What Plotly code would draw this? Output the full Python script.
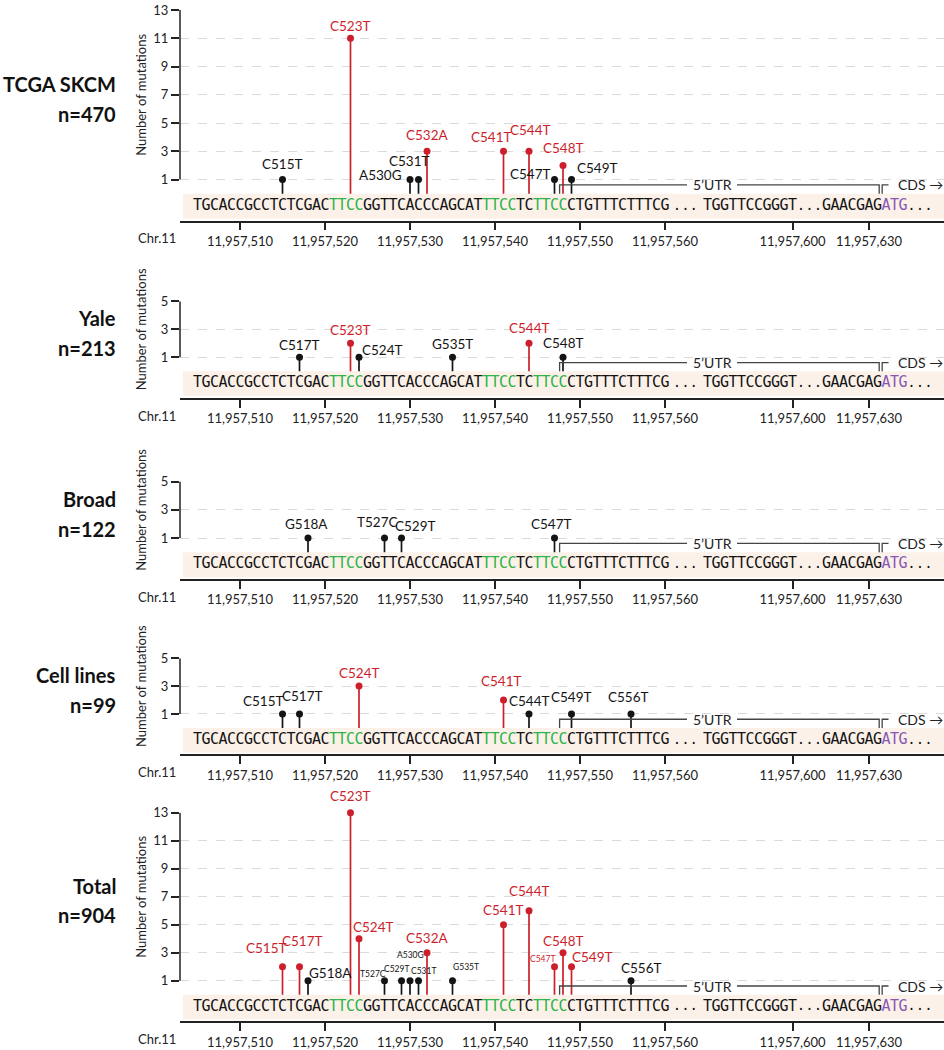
import plotly.graph_objects as go

W, H = 944, 1050

# ---------------- data ----------------
panel_names = ["TCGA SKCM", "Yale", "Broad", "Cell lines", "Total"]
panel_n = ["n=470", "n=213", "n=122", "n=99", "n=904"]
panel_ymax = [13, 5, 5, 5, 13]

tcga_mut = ["C515T", "C523T", "A530G", "C531T", "C532A", "C541T", "C544T", "C547T", "C548T", "C549T"]
tcga_pos = [515, 523, 530, 531, 532, 541, 544, 547, 548, 549]
tcga_cnt = [1, 11, 1, 1, 3, 3, 3, 1, 2, 1]

yale_mut = ["C517T", "C523T", "C524T", "G535T", "C544T", "C548T"]
yale_pos = [517, 523, 524, 535, 544, 548]
yale_cnt = [1, 2, 1, 1, 2, 1]

broad_mut = ["G518A", "T527C", "C529T", "C547T"]
broad_pos = [518, 527, 529, 547]
broad_cnt = [1, 1, 1, 1]

cell_mut = ["C515T", "C517T", "C524T", "C541T", "C544T", "C549T", "C556T"]
cell_pos = [515, 517, 524, 541, 544, 549, 556]
cell_cnt = [1, 1, 3, 2, 1, 1, 1]

total_mut = ["C515T", "C517T", "G518A", "C523T", "C524T", "T527C", "C529T", "A530G", "C531T",
             "C532A", "G535T", "C541T", "C544T", "C547T", "C548T", "C549T", "C556T"]
total_pos = [515, 517, 518, 523, 524, 527, 529, 530, 531, 532, 535, 541, 544, 547, 548, 549, 556]
total_cnt = [2, 2, 1, 13, 4, 1, 1, 1, 1, 3, 1, 5, 6, 2, 3, 2, 1]

# reference sequence blocks (text, first genomic position, offset 11,957,000)
seq_blocks = [("TGCACCGCCTCTCGACTTCCGGTTCACCCAGCATTTCCTCTTCCCTGTTTCTTTCG", 505),
              ("TGGTTCCGGGT", 590),
              ("GAACGAGATG", 625)]
green_ranges = [(521, 524), (539, 542), (545, 548)]
start_codon = (632, 634)
utr_start, utr_end, cds_start = 548, 631, 632

chrom_offset = 11957000
xtick_genomic = [11957510, 11957520, 11957530, 11957540, 11957550, 11957560, 11957600, 11957630]

# ---------------- helpers / style ----------------
RED = "#CC1F2B"
BLACK = "#141414"
GREEN = "#2DB34A"
PURPLE = "#8A58B4"
AXC = "#222222"
FONT = "Lato, 'Open Sans', sans-serif"
MONO = "'DejaVu Sans Mono', monospace"


def slot(g):
    # display slot for a genomic position (sequence is elided with '...')
    if g <= 560:
        return g
    if g <= 600:
        return g - 25
    return g - 46


REF_SLOT, REF_PX, SLOT_PX = 510, 240.0, 8.5


def px2slot(px):
    return REF_SLOT + (px - REF_PX) / SLOT_PX


X_LEFT_PX = 180
x_range = [px2slot(X_LEFT_PX), px2slot(W)]
YBOT = -1.9
BAND_TOP, BAND_BOT = 0.0, -1.78
SEQ_Y = -0.88
BR_Y = 0.62

panel_px = [(2, 215), (296.7, 394.3), (479, 577.7), (657.7, 755), (814, 1025)]

panels = [(tcga_mut, tcga_pos, tcga_cnt), (yale_mut, yale_pos, yale_cnt),
          (broad_mut, broad_pos, broad_cnt), (cell_mut, cell_pos, cell_cnt),
          (total_mut, total_pos, total_cnt)]

# label placement nudges (dx px, dy px, xanchor, font size)
label_nudge = {
    0: {"C515T": (0, 16), "C523T": (0, 12), "A530G": (-6, 5, "right"), "C531T": (-8.7, 19),
        "C532A": (0, 16), "C541T": (-11.6, 14), "C544T": (1, 21), "C547T": (-2, 6, "right"),
        "C548T": (0, 17), "C549T": (3.3, 12, "left")},
    1: {"C517T": (0, 12), "C523T": (0, 13), "C524T": (0.7, 7, "left"), "G535T": (0, 13),
        "C544T": (0, 15), "C548T": (0, 14)},
    2: {"G518A": (-1.7, 14), "T527C": (-8, 16), "C529T": (14, 12), "C547T": (-3, 14)},
    3: {"C515T": (-19, 13), "C517T": (3, 18), "C524T": (0, 13), "C541T": (-2, 19),
        "C544T": (0, 13), "C549T": (0, 17), "C556T": (-3, 17)},
    4: {"C515T": (-16, 19), "C517T": (3, 26), "G518A": (-1, 8, "left"), "C523T": (0, 17),
        "C524T": (14, 12), "T527C": (-12, 7, "center", 8.5), "C529T": (-5, 12, "center", 8.5),
        "A530G": (0, 26, "center", 8.5), "C531T": (5, 10, "center", 8.5), "C532A": (0, 15),
        "G535T": (13, 14, "center", 8.5), "C541T": (0, 15), "C544T": (0, 20),
        "C547T": (-12, 8, "center", 8.5), "C548T": (0, 12), "C549T": (21, 10), "C556T": (10, 13)},
}

fig = go.Figure()
annotations = []
shapes = []
layout_axes = {}

# sequence characters
seq_x, seq_t, seq_c = [], [], []
for text, g0 in seq_blocks:
    for k, ch in enumerate(text):
        g = g0 + k
        col = BLACK
        for a, b in green_ranges:
            if a <= g <= b:
                col = GREEN
        if start_codon[0] <= g <= start_codon[1]:
            col = PURPLE
        seq_x.append(slot(g))
        seq_t.append(ch)
        seq_c.append(col)
# elision marks between / after the blocks
ends = [slot(g0 + len(t) - 1) for t, g0 in seq_blocks]
starts = [slot(g0) for t, g0 in seq_blocks]
dot_x = [(ends[0] + starts[1]) / 2 - 0.1, (ends[1] + starts[2]) / 2, ends[2] + 2]

for i, (muts, pos, cnt) in enumerate(panels):
    n = i + 1
    sx = "" if n == 1 else str(n)
    xref, yref = "x" + sx, "y" + sx
    top_px, bot_px = panel_px[i]
    ymax = panel_ymax[i]

    def v2px(v):
        return top_px + (ymax - v) / (ymax - YBOT) * (bot_px - top_px)

    layout_axes["xaxis" + sx] = dict(
        domain=[X_LEFT_PX / W, 1], range=x_range, anchor=yref, fixedrange=True,
        tickvals=[slot(g - chrom_offset) for g in xtick_genomic],
        ticktext=[f"{g:,}" for g in xtick_genomic],
        ticks="outside", ticklen=8, tickwidth=1.5, tickcolor=AXC,
        showline=True, linecolor=AXC, linewidth=1.5,
        showgrid=False, zeroline=False,
        tickfont=dict(family=FONT, size=13, color=AXC))
    layout_axes["yaxis" + sx] = dict(
        domain=[1 - bot_px / H, 1 - top_px / H], range=[YBOT, ymax], anchor=xref, fixedrange=True,
        tickvals=list(range(1, ymax + 1, 2)), ticks="outside", ticklen=8, tickwidth=1.5,
        tickcolor=AXC, showline=False, zeroline=False,
        showgrid=True, gridcolor="#DADADA", griddash="dash", gridwidth=1,
        tickfont=dict(family=FONT, size=13, color=AXC))

    # band
    shapes.append(dict(type="rect", xref=xref, yref=yref, x0=px2slot(183), x1=x_range[1] + 1,
                       y0=BAND_BOT, y1=BAND_TOP, fillcolor="#FBF1E9", line=dict(width=0), layer="below"))
    # y axis line (1..max)
    shapes.append(dict(type="line", xref="paper", yref=yref, x0=X_LEFT_PX / W, x1=X_LEFT_PX / W,
                       y0=1, y1=ymax, line=dict(color=AXC, width=1.5)))
    # 5'UTR bracket
    ux0 = slot(utr_start) - 0.4
    ux1 = slot(utr_end) + 0.2
    gap0, gap1 = px2slot(687), px2slot(737)
    brl = dict(color="#444444", width=1.3)
    shapes.append(dict(type="path", xref=xref, yref=yref,
                       path=f"M {ux0},{BAND_TOP} L {ux0},{BR_Y} L {gap0},{BR_Y}", line=brl))
    shapes.append(dict(type="path", xref=xref, yref=yref,
                       path=f"M {gap1},{BR_Y} L {ux1},{BR_Y} L {ux1},{BAND_TOP}", line=brl))
    annotations.append(dict(x=(gap0 + gap1) / 2, y=BR_Y, xref=xref, yref=yref, text="5’UTR",
                            showarrow=False, font=dict(family=FONT, size=14, color=AXC)))
    cx0 = slot(cds_start) - 0.45
    shapes.append(dict(type="path", xref=xref, yref=yref,
                       path=f"M {cx0},{BAND_TOP} L {cx0},{BR_Y} L {cx0 + 0.75},{BR_Y}", line=brl))
    annotations.append(dict(x=cx0 + 1.6, y=BR_Y, xref=xref, yref=yref, text="CDS →",
                            xanchor="left", showarrow=False, font=dict(family=FONT, size=14, color=AXC)))

    # sequence
    fig.add_trace(go.Scatter(x=seq_x, y=[SEQ_Y] * len(seq_x), text=seq_t, mode="text",
                             textfont=dict(family=MONO, size=15, color=seq_c),
                             xaxis=xref, yaxis=yref, hoverinfo="skip", showlegend=False,
                             cliponaxis=False))
    fig.add_trace(go.Scatter(x=dot_x, y=[SEQ_Y] * len(dot_x), text=["..."] * len(dot_x), mode="text",
                             textfont=dict(family=MONO, size=14, color=BLACK),
                             xaxis=xref, yaxis=yref, hoverinfo="skip", showlegend=False,
                             cliponaxis=False))

    # lollipops
    for color, sel in ((BLACK, lambda c: c < 2), (RED, lambda c: c >= 2)):
        xs, ys, mx, my = [], [], [], []
        for p, c in zip(pos, cnt):
            if sel(c):
                xs += [p, p, None]
                ys += [BAND_TOP, c, None]
                mx.append(p)
                my.append(c)
        if not mx:
            continue
        fig.add_trace(go.Scatter(x=xs, y=ys, mode="lines", line=dict(color=color, width=1.7),
                                 xaxis=xref, yaxis=yref, hoverinfo="skip", showlegend=False,
                                 cliponaxis=False))
        fig.add_trace(go.Scatter(x=mx, y=my, mode="markers", marker=dict(color=color, size=7),
                                 xaxis=xref, yaxis=yref, showlegend=False, cliponaxis=False))

    # mutation labels
    for m, p, c in zip(muts, pos, cnt):
        nd = label_nudge[i].get(m, (0, 15))
        dx, dy = nd[0], nd[1]
        anc = nd[2] if len(nd) > 2 else "center"
        fs = nd[3] if len(nd) > 3 else 13.5
        annotations.append(dict(x=p, y=c, xref=xref, yref=yref, text=m, showarrow=False,
                                xshift=dx, yshift=dy, xanchor=anc, yanchor="middle",
                                font=dict(family=FONT, size=fs, color=RED if c >= 2 else BLACK)))

    # y-axis title
    yc = (v2px(1) + v2px(ymax)) / 2
    annotations.append(dict(x=141 / W, y=1 - yc / H, xref="paper", yref="paper",
                            text="Number of mutations", textangle=-90, showarrow=False,
                            xanchor="center", yanchor="middle",
                            font=dict(family=FONT, size=13, color=AXC)))
    # panel titles
    tc = yc + 4
    annotations.append(dict(x=118 / W, y=1 - (tc - 15) / H, xref="paper", yref="paper",
                            text=f"<b>{panel_names[i]}</b>", xanchor="right", yanchor="middle",
                            showarrow=False, font=dict(family=FONT, size=20, color="#111111")))
    annotations.append(dict(x=118 / W, y=1 - (tc + 15) / H, xref="paper", yref="paper",
                            text=f"<b>{panel_n[i]}</b>", xanchor="right", yanchor="middle",
                            showarrow=False, font=dict(family=FONT, size=20, color="#111111")))
    # Chr label
    annotations.append(dict(x=136 / W, y=1 - (bot_px + 18) / H, xref="paper", yref="paper",
                            text="Chr.11", xanchor="left", yanchor="middle", showarrow=False,
                            font=dict(family=FONT, size=13, color=AXC)))

fig.update_layout(width=W, height=H, margin=dict(l=0, r=0, t=0, b=0),
                  plot_bgcolor="white", paper_bgcolor="white",
                  annotations=annotations, shapes=shapes, showlegend=False, **layout_axes)

fig.write_html("out.html", config={"displayModeBar": False},
               post_script="document.body.style.margin='0px';document.body.style.overflow='hidden';")
